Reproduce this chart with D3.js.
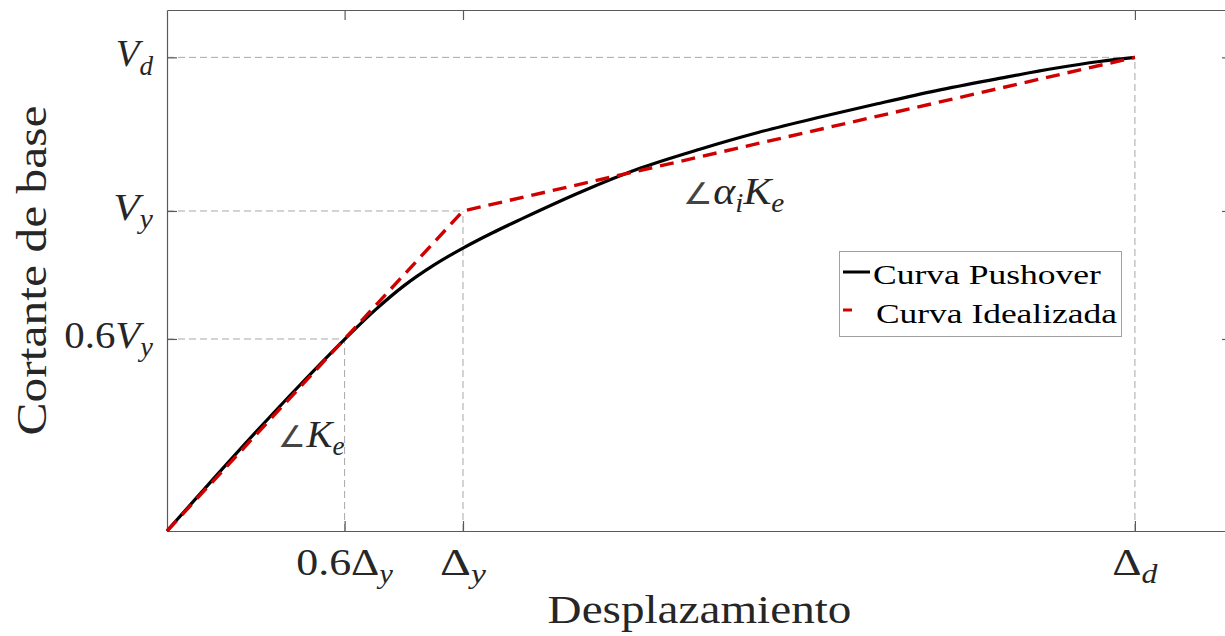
<!DOCTYPE html>
<html><head><meta charset="utf-8">
<script src="https://cdn.jsdelivr.net/npm/d3@7"></script>
<style>body{margin:0;background:#fff;overflow:hidden} svg{display:block}</style>
</head><body><svg id="c" width="1225" height="636"></svg>
<script>
// ---- data (normalised units: Δy = 1, Vy = 1) ----
const pushoverX = [0, 0.15, 0.30, 0.45, 0.60, 0.70, 0.80, 0.90, 1.00, 1.10, 1.20, 1.40, 1.60, 1.80, 2.00, 2.20, 2.40, 2.60, 2.80, 3.00, 3.15, 3.27];
const pushoverY = [0, 0.156, 0.309, 0.457, 0.599, 0.688, 0.766, 0.830, 0.884, 0.932, 0.976, 1.060, 1.134, 1.193, 1.246, 1.292, 1.335, 1.376, 1.412, 1.446, 1.467, 1.480];
const idealX = [0, 0.6, 1.0, 3.27];
const idealY = [0, 0.6, 1.0, 1.48];
const xTickValues = [0.6, 1.0, 3.27];
const xTickLabels = ["0.6Δ_y", "Δ_y", "Δ_d"];
const yTickValues = [0.6, 1.0, 1.48];
const yTickLabels = ["0.6V_y", "V_y", "V_d"];
const xDomain = [0, 3.598];
const yDomain = [0, 1.628];
const seriesNames = ["Curva Pushover", "Curva Idealizada"];
const annotations = [
  {label: "∠K_e", x: 0.6, y: 0.2625, anchor: "end", width: 66},
  {label: "∠α_iK_e", x: 1.743, y: 1.022, anchor: "start", width: 101}
];
const xLabel = "Desplazamiento";
const yLabel = "Cortante de base";

// ---- layout ----
const L = 167, R = 1232, T = 10, B = 531;
const svg = d3.select("#c");
const x = d3.scaleLinear().domain(xDomain).range([L, R]);
const y = d3.scaleLinear().domain(yDomain).range([B, T]);
const FONT = "'Liberation Serif','Times New Roman',serif";
const TXT = "#262626";
const AX = "#5a5a5a";

// reference dashed lines
const refs = svg.append("g").attr("stroke", "#a8a8a8").attr("stroke-width", 1).attr("stroke-dasharray", "7,4").attr("fill", "none");
xTickValues.forEach((xv, i) => {
  const yv = yTickValues[i];
  refs.append("line").attr("x1", x(0)).attr("x2", x(xv)).attr("y1", y(yv)).attr("y2", y(yv));
  refs.append("line").attr("x1", x(xv)).attr("x2", x(xv)).attr("y1", y(0)).attr("y2", y(yv));
});

// axes (MATLAB-like box with inward ticks)
function styleAxis(g) {
  g.selectAll("path").attr("stroke", AX).attr("stroke-width", 1.2);
  g.selectAll("line").attr("stroke", AX).attr("stroke-width", 1.2);
  g.selectAll("text").remove();
}
svg.append("g").attr("transform", `translate(0,${B})`)
  .call(d3.axisBottom(x).tickValues(xTickValues).tickSizeInner(-10).tickSizeOuter(0).tickFormat("")).call(styleAxis);
svg.append("g").attr("transform", `translate(0,${T})`)
  .call(d3.axisTop(x).tickValues(xTickValues).tickSizeInner(-10).tickSizeOuter(0).tickFormat("")).call(styleAxis);
svg.append("g").attr("transform", `translate(${L},0)`)
  .call(d3.axisLeft(y).tickValues(yTickValues).tickSizeInner(-10).tickSizeOuter(0).tickFormat("")).call(styleAxis);
svg.append("g").attr("transform", `translate(${R},0)`)
  .call(d3.axisRight(y).tickValues(yTickValues).tickSizeInner(-10).tickSizeOuter(0).tickFormat("")).call(styleAxis);

// curves
const pushData = pushoverX.map((v, i) => [v, pushoverY[i]]);
const idealData = idealX.map((v, i) => [v, idealY[i]]);
svg.append("path").datum(pushData).attr("fill", "none").attr("stroke", "#000").attr("stroke-width", 3.2)
  .attr("stroke-linejoin", "round")
  .attr("d", d3.line().x(d => x(d[0])).y(d => y(d[1])).curve(d3.curveMonotoneX));
svg.append("path").datum(idealData).attr("fill", "none").attr("stroke", "#d00000").attr("stroke-width", 3.4)
  .attr("stroke-dasharray", "14,8").attr("d", d3.line().x(d => x(d[0])).y(d => y(d[1])));

// math-ish text helper: "_c" => subscript c; latin/greek letters italic
function mathText(parent, str, fs, tx, ty, anchor, width, rotate, roman) {
  const g = parent.append("g");
  const t = g.append("text").attr("font-family", FONT).attr("font-size", fs).attr("fill", TXT)
    .attr("text-anchor", anchor);
  let sub = false;
  for (let i = 0; i < str.length; i++) {
    let ch = str[i];
    let isSub = false;
    if (ch === "_") { isSub = true; i++; ch = str[i]; }
    const italic = !roman && /[A-Za-zα]/.test(ch);
    const ts = t.append("tspan").text(ch);
    if (italic) ts.attr("font-style", "italic");
    if (ch === "∠") ts.attr("font-size", fs * 0.8).attr("fill", "#444").attr("font-family", "'DejaVu Sans'").attr("font-weight", 200);
    if (isSub) { ts.attr("font-size", fs * 0.7).attr("dy", fs * 0.22); sub = true; }
    else if (sub) { ts.attr("dy", -fs * 0.22); sub = false; }
  }
  const w = t.node().getBBox().width;
  const k = width ? width / w : 1;
  g.attr("transform", `translate(${tx},${ty})` + (rotate ? ` rotate(${rotate})` : "") + ` scale(${k},1)`);
  return g;
}

// tick labels
const xTickWidths = [97, 46, 46];
xTickValues.forEach((v, i) => mathText(svg, xTickLabels[i], 38, x(v), 575, "middle", xTickWidths[i]));
const yTickWidths = [89, 40, 38];
yTickValues.forEach((v, i) => mathText(svg, yTickLabels[i], 38, 153, y(v) + 9, "end", yTickWidths[i]));

// annotations
annotations.forEach(a => mathText(svg, a.label, 38, x(a.x), y(a.y), a.anchor, a.width));

// axis labels
mathText(svg, xLabel, 40, (L + R) / 2, 623, "middle", 304, 0, true);
mathText(svg, yLabel, 42, 46, (T + B) / 2, "middle", 330, -90, true);

// legend
const lg = svg.append("g");
lg.append("rect").attr("x", 839.5).attr("y", 251.5).attr("width", 282).attr("height", 85)
  .attr("fill", "#fff").attr("stroke", "#a0a0a0").attr("stroke-width", 1);
const legRows = [{y: 272, color: "#000", dash: null, tx: 873, ty: 284, w: 228},
                 {y: 310, color: "#d00000", dash: "9,18", tx: 876, ty: 323, w: 241}];
seriesNames.forEach((name, i) => {
  const r = legRows[i];
  const l = lg.append("line").attr("x1", 843).attr("x2", 870).attr("y1", r.y).attr("y2", r.y)
    .attr("stroke", r.color).attr("stroke-width", 3);
  if (r.dash) l.attr("stroke-dasharray", r.dash);
  const g = lg.append("g");
  const t = g.append("text").attr("font-family", FONT).attr("font-size", 27).attr("fill", "#000").text(name);
  const w = t.node().getBBox().width;
  g.attr("transform", `translate(${r.tx},${r.ty}) scale(${r.w / w},1)`);
});
</script></body></html>
